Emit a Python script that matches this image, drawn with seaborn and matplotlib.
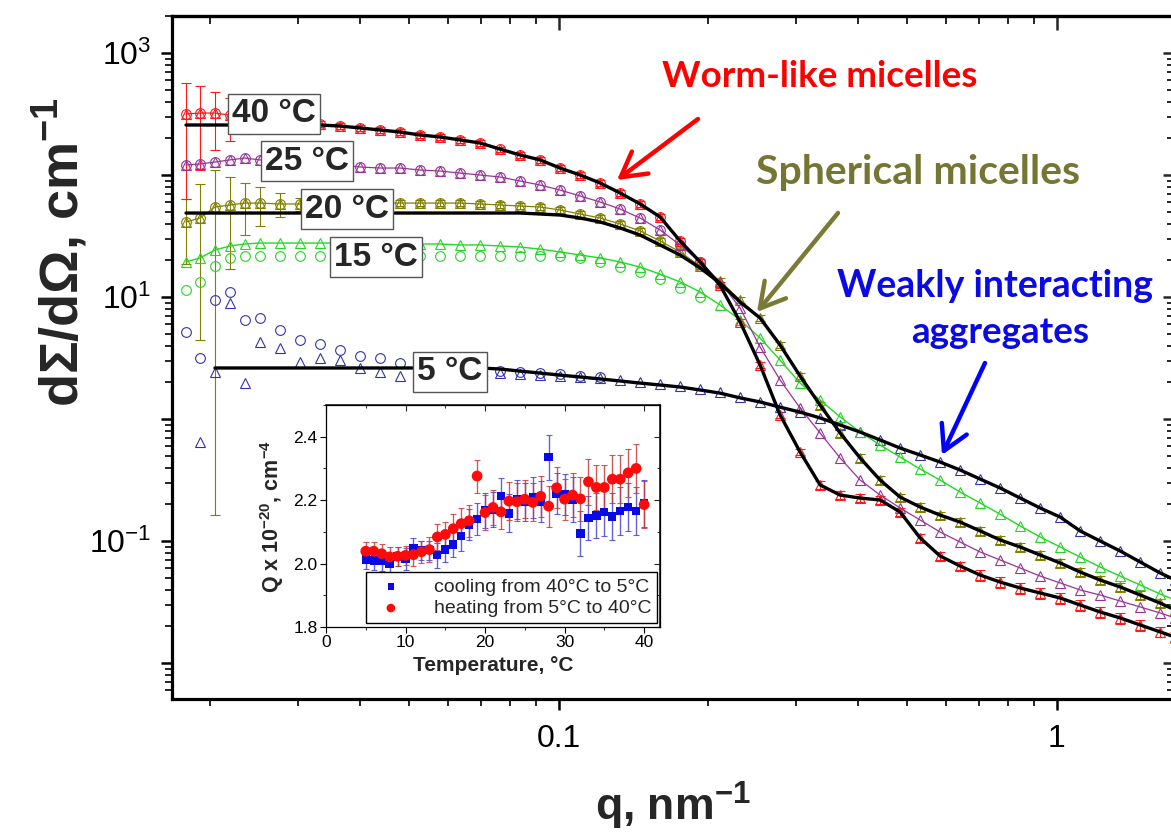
import numpy as np
import pandas as pd
import matplotlib
matplotlib.use("Agg")
import matplotlib.pyplot as plt
import seaborn as sns
from matplotlib.ticker import LogLocator, FuncFormatter, NullFormatter, MultipleLocator

nan = np.nan

# ---------------- main SANS curves ----------------
q = [0.01786, 0.01905, 0.02042, 0.02188, 0.02344, 0.02512, 0.02758, 0.03025, 0.03318, 0.0364,
     0.03993, 0.0438, 0.04804, 0.0527, 0.0578, 0.0634, 0.06955, 0.07629, 0.08368, 0.09179,
     0.1007, 0.1105, 0.1212, 0.1329, 0.1458, 0.1599, 0.1754, 0.1924, 0.2110, 0.2315,
     0.2539, 0.2785, 0.3055, 0.3351, 0.3676, 0.4032, 0.4423, 0.4851, 0.5321, 0.5837,
     0.6402, 0.7023, 0.7703, 0.8450, 0.9268, 1.017, 1.115, 1.223, 1.342, 1.472,
     1.614, 1.730]

I_40 = [316, 322, 322, 310, 299, 293, 282, 272, 262, 252,
        243, 234, 225, 213, 205, 194, 183, 163, 146, 133,
        114, 100, 86.0, 71.2, 57.9, 45.3, 28.8, 19.4, 12.5, 6.24,
        2.77, 1.08, 0.536, 0.288, 0.238, 0.225, 0.217, 0.173, 0.106, 0.0753,
        0.0624, 0.0526, 0.0461, 0.0412, 0.0375, 0.0341, 0.0299, 0.0262, 0.0234, 0.0205,
        0.0180, 0.0163]
fit_40 = [257, 257, 257, 257, 257, 257, 257, 257, 257, 252,
          243, 234, 225, 213, 205, 194, 183, 163, 146, 133,
          114, 100, 86.0, 71.2, 57.9, 45.3, 28.8, 19.4, 12.5, 6.24,
          2.77, 1.08, 0.536, 0.288, 0.238, 0.225, 0.217, 0.173, 0.106, 0.0753,
          0.0624, 0.0526, 0.0461, 0.0412, 0.0375, 0.0341, 0.0299, 0.0262, 0.0234, 0.0205,
          0.0180, 0.0163]
err_40 = [0.8, 0.66, 0.5, 0.39, 0.28, 0.19, 0.1, 0.07, 0.06, 0.05,
          0.05, 0.05, 0.05, 0.05, 0.05, 0.05, 0.05, 0.05, 0.05, 0.05,
          0.05, 0.05, 0.05, 0.05, 0.05, 0.05, 0.05, 0.05, 0.06, 0.06,
          0.06, 0.06, 0.06, 0.08, 0.08, 0.08, 0.08, 0.08, 0.08, 0.08,
          0.08, 0.1, 0.1, 0.1, 0.1, 0.1, 0.1, 0.1, 0.1, 0.1,
          0.1, 0.1]

I_25 = [120.8, 123.1, 127.8, 133, 137.8, 133, 127.8, 125.4, 123.1, 120.8,
        116.3, 114.1, 114.1, 109.9, 107.8, 103.8, 100, 96.3, 89.3, 82.8,
        75.3, 67.3, 60.1, 52.6, 44.4, 35.4, 26.7, 19.4, 13.3, 8.12,
        3.89, 2.09, 1.23, 0.768, 0.479, 0.316, 0.238, 0.1865, 0.1486, 0.1185,
        0.0981, 0.0813, 0.0699, 0.0601, 0.0516, 0.0453, 0.0397, 0.0361, 0.0322, 0.0288,
        0.0257, 0.0234]

I_20 = [41.2, 44.4, 54.7, 56.8, 58.9, 58.9, 57.9, 57.9, 57.9, 58.9,
        58.9, 58.9, 58.9, 58.9, 58.9, 58.9, 57.9, 56.8, 55.7, 54.7,
        51.7, 47.9, 44.4, 39.7, 34.8, 28.8, 23.4, 17.9, 13.5, 9.45,
        6.73, 4.04, 2.25, 1.30, 0.768, 0.479, 0.316, 0.229, 0.190, 0.163,
        0.143, 0.121, 0.102, 0.0893, 0.0768, 0.0660, 0.0557, 0.0479, 0.0420, 0.0361,
        0.0310, 0.0272]
fit_20 = [48.8, 48.8, 48.8, 48.8, 48.8, 48.8, 48.8, 48.8, 48.8, 48.8,
          48.8, 48.8, 48.8, 48.8, 48.8, 48.8, 48.8, 48.8, 48.8, 47.9,
          47.0, 44.4, 41.2, 36.8, 32.2, 26.7, 22.1, 17.3, 13.0, 9.10,
          6.73, 4.04, 2.25, 1.30, 0.768, 0.479, 0.316, 0.229, 0.190, 0.163,
          0.143, 0.121, 0.102, 0.0893, 0.0768, 0.0660, 0.0557, 0.0479, 0.0420, 0.0361,
          0.0310, 0.0272]
err_20 = [0.55, 0.9, 0.997, 0.7, 0.45, 0.35, 0.22, 0.12, 0.1, 0.08,
          0.07, 0.06, 0.05, 0.05, 0.05, 0.05, 0.05, 0.05, 0.05, 0.05,
          0.05, 0.05, 0.05, 0.05, 0.05, 0.05, 0.05, 0.05, 0.06, 0.06,
          0.06, 0.06, 0.06, 0.07, 0.07, 0.07, 0.07, 0.07, 0.07, 0.07,
          0.07, 0.08, 0.08, 0.08, 0.08, 0.08, 0.08, 0.08, 0.08, 0.08,
          0.08, 0.08]

I_15_tri = [19.4, 20.9, 24.3, 26.2, 27.2, 27.7, 27.7, 27.7, 27.7, 27.7,
            27.7, 27.7, 27.7, 27.2, 27.2, 26.7, 26.7, 26.2, 25.7, 24.7,
            23.4, 22.1, 20.9, 19.4, 17.6, 15.4, 13.3, 11.0, 8.60, 6.48,
            4.61, 3.04, 1.97, 1.43, 1.04, 0.782, 0.612, 0.488, 0.389, 0.316,
            0.252, 0.205, 0.166, 0.133, 0.108, 0.0893, 0.0739, 0.0612, 0.0516, 0.0436,
            0.0368, 0.0328]
I_15_circ = [11.4, 13.3, 17.9, 20.9, 21.7, 21.7, 21.7, 21.7, 21.7, 21.7,
             21.7, 21.7, 21.7, 21.7, 21.7, 21.7, 21.7, 21.7, 21.7, 21.7,
             21.7, 20.9, 19.4, 17.6, 16.0, 14.0, 11.9, 10.0]

I_5_tri = [nan, 0.648, 2.43, 8.93, 1.97, 4.28, 3.82, 2.93, 3.16, 3.04,
           2.62, 2.43, 2.25, 2.43, 2.29, 2.34, 2.38, 2.38, 2.34, 2.29,
           2.25, 2.21, 2.17, 2.09, 2.01, 1.94, 1.86, 1.76, 1.66, 1.51,
           1.38, 1.25, 1.14, 1.02, 0.893, 0.782, 0.673, 0.578, 0.507, 0.444,
           0.382, 0.322, 0.272, 0.225, 0.1865, 0.157, 0.121, 0.100, 0.0828, 0.0673,
           0.0547, 0.0479]
I_5_circ = [5.17, 3.16, 9.45, 11.0, 6.48, 6.73, 5.36, 4.44, 4.12, 3.68,
            3.28, 3.16, 2.88, 2.72, 2.62, 2.57, 2.52, 2.47, 2.43, 2.38,
            2.34, 2.25, 2.21]
fit_5 = [nan, nan, 2.62, 2.62, 2.62, 2.62, 2.62, 2.62, 2.62, 2.62,
         2.62, 2.62, 2.62, 2.62, 2.62, 2.62, 2.62, 2.57, 2.47, 2.38,
         2.29, 2.21, 2.13, 2.05, 1.97, 1.90, 1.83, 1.73, 1.63, 1.49,
         1.38, 1.25, 1.14, 1.02, 0.893, 0.782, 0.673, 0.578, 0.507, 0.444,
         0.382, 0.322, 0.272, 0.225, 0.1865, 0.157, 0.121, 0.100, 0.0828, 0.0673,
         0.0547, 0.0479]

temp_labels = ["40 °C", "25 °C", "20 °C", "15 °C", "5 °C"]
notes = ["Worm-like micelles", "Spherical micelles", "Weakly interacting", "aggregates"]

# ---------------- inset: Porod invariant vs temperature ----------------
T = list(range(5, 41))
Q_cool = [2.013, 2.010, 2.008, 2.000, 2.022, 2.015, 2.050, 2.042, 2.042, 2.026,
          2.044, 2.060, 2.086, 2.123, 2.140, 2.168, 2.170, 2.214, 2.158, 2.202,
          2.195, 2.208, 2.195, 2.335, 2.221, 2.218, 2.202, 2.095, 2.144, 2.152,
          2.162, 2.148, 2.165, 2.179, 2.166, 2.190]
Q_cool_err = [0.03, 0.03, 0.03, 0.03, 0.03, 0.035, 0.03, 0.03, 0.03, 0.04,
              0.04, 0.04, 0.045, 0.05, 0.05, 0.055, 0.055, 0.055, 0.06, 0.06,
              0.06, 0.065, 0.065, 0.07, 0.065, 0.065, 0.07, 0.07, 0.07, 0.07,
              0.075, 0.075, 0.075, 0.075, 0.075, 0.075]
Q_heat = [2.039, 2.039, 2.031, 2.021, 2.023, 2.026, 2.028, 2.037, 2.044, 2.084,
          2.092, 2.110, 2.126, 2.135, 2.276, 2.161, 2.177, 2.163, 2.197, 2.195,
          2.203, 2.193, 2.212, 2.181, 2.239, 2.203, 2.216, 2.204, 2.258, 2.240,
          2.240, 2.266, 2.266, 2.286, 2.300, 2.186]
Q_heat_err = [0.028, 0.03, 0.03, 0.03, 0.03, 0.03, 0.035, 0.035, 0.04, 0.04,
              0.04, 0.045, 0.05, 0.05, 0.052, 0.055, 0.055, 0.055, 0.06, 0.06,
              0.06, 0.06, 0.065, 0.065, 0.065, 0.065, 0.07, 0.07, 0.072, 0.072,
              0.072, 0.075, 0.075, 0.075, 0.078, 0.075]
legend_labels = ["cooling from 40°C to 5°C", "heating from 5°C to 40°C"]

# ---------------- style ----------------
sns.set_theme(style="ticks")
plt.rcParams["font.family"] = ["Liberation Sans", "DejaVu Sans"]
plt.rcParams["mathtext.fontset"] = "custom"
plt.rcParams["mathtext.rm"] = "Liberation Sans"
plt.rcParams["mathtext.bf"] = "Liberation Sans:bold"
plt.rcParams["mathtext.it"] = "Liberation Sans:italic"

W, H = 1171, 832
fig = plt.figure(figsize=(W / 100, H / 100), dpi=100)
fig.patch.set_facecolor("white")

ax = fig.add_axes([172 / W, 1 - 699 / H, (1174 - 172) / W, (699 - 16) / H])
ax.set_xscale("log")
ax.set_yscale("log")
ax.set_facecolor("white")

C_RED, C_PUR, C_OLI, C_GRN, C_BLU = "#FF1A1A", "#993399", "#808000", "#22D822", "#3333AA"


def markers(qv, Iv, color, marker, ms=7, lw=0.0, z=2):
    df = pd.DataFrame({"q": qv, "I": Iv}).dropna()
    sns.lineplot(data=df, x="q", y="I", ax=ax, color=color, lw=lw, marker=marker,
                 markersize=ms, markerfacecolor="none", markeredgecolor=color,
                 markeredgewidth=0.8, estimator=None, sort=False, legend=False, zorder=z)


def fitline(qv, Iv, color="black", lw=2.4, z=6):
    df = pd.DataFrame({"q": qv, "I": Iv}).dropna()
    sns.lineplot(data=df, x="q", y="I", ax=ax, color=color, lw=lw,
                 estimator=None, sort=False, legend=False, zorder=z)


def errbars(qv, Iv, frac, color, z=1.5):
    Iv = np.asarray(Iv, float)
    ax.errorbar(qv, Iv, yerr=Iv * np.asarray(frac), fmt="none", ecolor=color,
                elinewidth=0.8, capsize=3.5, capthick=0.8, zorder=z)


# 5 C
markers(q, I_5_tri, C_BLU, "^", lw=0.0)
markers(q[:len(I_5_circ)], I_5_circ, C_BLU, "o")
# 15 C
markers(q, I_15_tri, C_GRN, "^", lw=1.0)
markers(q[:len(I_15_circ)], I_15_circ, C_GRN, "o")
# 20 C
errbars(q, I_20, err_20, C_OLI)
markers(q, I_20, C_OLI, "^", lw=0.9)
markers(q[:28], I_20[:28], C_OLI, "o")
# 25 C
markers(q, I_25, C_PUR, "^", lw=0.9)
markers(q[:28], I_25[:28], C_PUR, "o")
# 40 C
errbars(q, I_40, err_40, C_RED)
markers(q, I_40, C_RED, "^", lw=0.9)
markers(q[:28], I_40[:28], C_RED, "o")

fitline(q, fit_5)
fitline(q, fit_20)
fitline(q, fit_40)

ax.set_xlim(0.01674, 1.721)
ax.set_ylim(0.00507, 2011)
ax.set_xlabel("")
ax.set_ylabel("")

for s in ["left", "bottom", "top", "right"]:
    ax.spines[s].set_visible(True)
    ax.spines[s].set_color("black")
    ax.spines[s].set_linewidth(2.3)

ax.xaxis.set_major_locator(LogLocator(base=10, numticks=10))
ax.xaxis.set_minor_locator(LogLocator(base=10, subs=np.arange(2, 10), numticks=20))
ax.yaxis.set_major_locator(LogLocator(base=10, numticks=12))
ax.yaxis.set_minor_locator(LogLocator(base=10, subs=np.arange(2, 10), numticks=40))


def xfmt(v, pos):
    if abs(v - 0.1) < 1e-6:
        return "0.1"
    if abs(v - 1) < 1e-6:
        return "1"
    return ""


def yfmt(v, pos):
    e = int(round(np.log10(v)))
    if e % 2 == 1:
        return r"$\mathdefault{10^{%d}}$" % e
    return ""


ax.xaxis.set_major_formatter(FuncFormatter(xfmt))
ax.yaxis.set_major_formatter(FuncFormatter(yfmt))
ax.xaxis.set_minor_formatter(NullFormatter())
ax.yaxis.set_minor_formatter(NullFormatter())
ax.tick_params(which="major", direction="out", length=8, width=1.8, labelsize=23,
               colors="black", top=False, right=False)
ax.tick_params(axis="x", which="major", pad=10)
ax.tick_params(axis="y", which="major", pad=7)
ax.tick_params(which="minor", direction="out", length=5, width=1.4, top=False, right=False)

secx = ax.secondary_xaxis("top")
secx.tick_params(which="major", direction="in", length=10, width=1.8)
secx.tick_params(which="minor", direction="in", length=6, width=1.4)
secx.xaxis.set_major_formatter(NullFormatter())
secx.xaxis.set_minor_formatter(NullFormatter())
secx.spines["top"].set_linewidth(2.3)
secy = ax.secondary_yaxis("right")
secy.tick_params(which="major", direction="in", length=8, width=1.8)
secy.tick_params(which="minor", direction="in", length=5, width=1.4)
secy.yaxis.set_major_formatter(NullFormatter())
secy.yaxis.set_minor_formatter(NullFormatter())

# axis titles
fig.text(673 / W, 1 - 821 / H, r"q, nm$^{\mathbf{-1}}$", ha="center", va="baseline",
         fontsize=32, fontweight="bold")
fig.text(60 / W, 1 - 252 / H, "dΣ/dΩ, cm$^{\\mathbf{-1}}$", rotation=90,
         ha="center", va="center", fontsize=39, fontweight="bold")

# temperature labels in boxes
label_pos = [(274, 114), (307, 161), (347, 209), (376, 257), (450, 372)]
for txt, (x, y) in zip(temp_labels, label_pos):
    fig.text(x / W, 1 - y / H, txt, ha="center", va="center", fontsize=24,
             fontweight="bold", zorder=20,
             bbox=dict(boxstyle="square,pad=0.13", fc="white", ec="#555555", lw=1.0))

# annotations with arrows
C_NOTE_OLI = "#767634"
note_fam = ["Lato", "DejaVu Sans"]
fig.text(820 / W, 1 - 87 / H, notes[0], ha="center", va="baseline", fontsize=26.5,
         fontweight="bold", color="#FF0000", family=note_fam)
fig.text(918 / W, 1 - 184 / H, notes[1], ha="center", va="baseline", fontsize=29.5,
         fontweight="bold", color=C_NOTE_OLI, family=note_fam)
fig.text(995 / W, 1 - 297 / H, notes[2], ha="center", va="baseline", fontsize=27,
         fontweight="bold", color="#0A0AE6", family=note_fam)
fig.text(1000 / W, 1 - 343 / H, notes[3], ha="center", va="baseline", fontsize=26.5,
         fontweight="bold", color="#0A0AE6", family=note_fam)

arrows = [((698, 119), (617, 180), "#FF0000"),
          ((838, 213), (757, 312), "#7A7A36"),
          ((985, 363), (942, 455), "#0000FF")]
for (x0, y0), (x1, y1), c in arrows:
    ax.annotate("", xy=(x1, H - y1), xycoords="figure pixels",
                xytext=(x0, H - y0), textcoords="figure pixels",
                arrowprops=dict(arrowstyle="->,head_length=0.8,head_width=0.45",
                                color=c, lw=3.2, mutation_scale=22,
                                shrinkA=0, shrinkB=0), zorder=15)

# ---------------- inset ----------------
axin = fig.add_axes([326 / W, 1 - 627 / H, 334 / W, 222 / H])
axin.set_facecolor("white")
axin.set_zorder(10)
axin.errorbar(T, Q_cool, yerr=Q_cool_err, fmt="none", ecolor="#4646D8", elinewidth=1.0,
              capsize=2, capthick=0.8, zorder=2, alpha=0.85)
axin.errorbar(T, Q_heat, yerr=Q_heat_err, fmt="none", ecolor="#C83C3C", elinewidth=1.0,
              capsize=2, capthick=0.8, zorder=3, alpha=0.85)
sns.scatterplot(x=T, y=Q_cool, ax=axin, marker="s", s=36, color="#0A0AE6",
                edgecolor="none", label=legend_labels[0], zorder=4)
sns.scatterplot(x=T, y=Q_heat, ax=axin, marker="o", s=60, color="#FF0A0A",
                edgecolor="none", label=legend_labels[1], zorder=5)
axin.set_xlim(0, 42)
axin.set_ylim(1.8, 2.5)
axin.xaxis.set_major_locator(MultipleLocator(10))
axin.xaxis.set_minor_locator(MultipleLocator(5))
axin.yaxis.set_major_locator(MultipleLocator(0.2))
axin.yaxis.set_minor_locator(MultipleLocator(0.1))
axin.yaxis.set_major_formatter(FuncFormatter(lambda v, p: "%.1f" % v))
for s in ["left", "bottom", "top", "right"]:
    axin.spines[s].set_visible(True)
    axin.spines[s].set_color("black")
    axin.spines[s].set_linewidth(0.9)
axin.tick_params(which="major", direction="out", length=4, width=0.8, labelsize=12.5,
                 colors="black", pad=2)
axin.tick_params(which="minor", direction="out", length=2.5, width=0.7)
sx = axin.secondary_xaxis("top")
sx.tick_params(which="major", direction="in", length=4, width=0.8)
sx.tick_params(which="minor", direction="in", length=2.5, width=0.7)
sx.xaxis.set_major_locator(MultipleLocator(10))
sx.xaxis.set_minor_locator(MultipleLocator(5))
sx.xaxis.set_major_formatter(NullFormatter())
sy = axin.secondary_yaxis("right")
sy.tick_params(which="major", direction="in", length=4, width=0.8)
sy.tick_params(which="minor", direction="in", length=2.5, width=0.7)
sy.yaxis.set_major_locator(MultipleLocator(0.2))
sy.yaxis.set_minor_locator(MultipleLocator(0.1))
sy.yaxis.set_major_formatter(NullFormatter())
axin.set_xlabel("Temperature, °C", fontsize=15, fontweight="bold", labelpad=4)
axin.set_ylabel(r"Q x 10$^{\mathbf{-20}}$, cm$^{\mathbf{-4}}$", fontsize=15.5,
                fontweight="bold", labelpad=5)
leg = axin.legend(loc="lower right", bbox_to_anchor=(0.991, 0.018), frameon=True,
                  fancybox=False, edgecolor="black", framealpha=1, fontsize=14,
                  borderpad=0.3, labelspacing=0.2, handletextpad=1.2, borderaxespad=0,
                  markerscale=0.8)
leg.get_frame().set_linewidth(1.0)

fig.savefig("out.png", dpi=100, facecolor="white")
